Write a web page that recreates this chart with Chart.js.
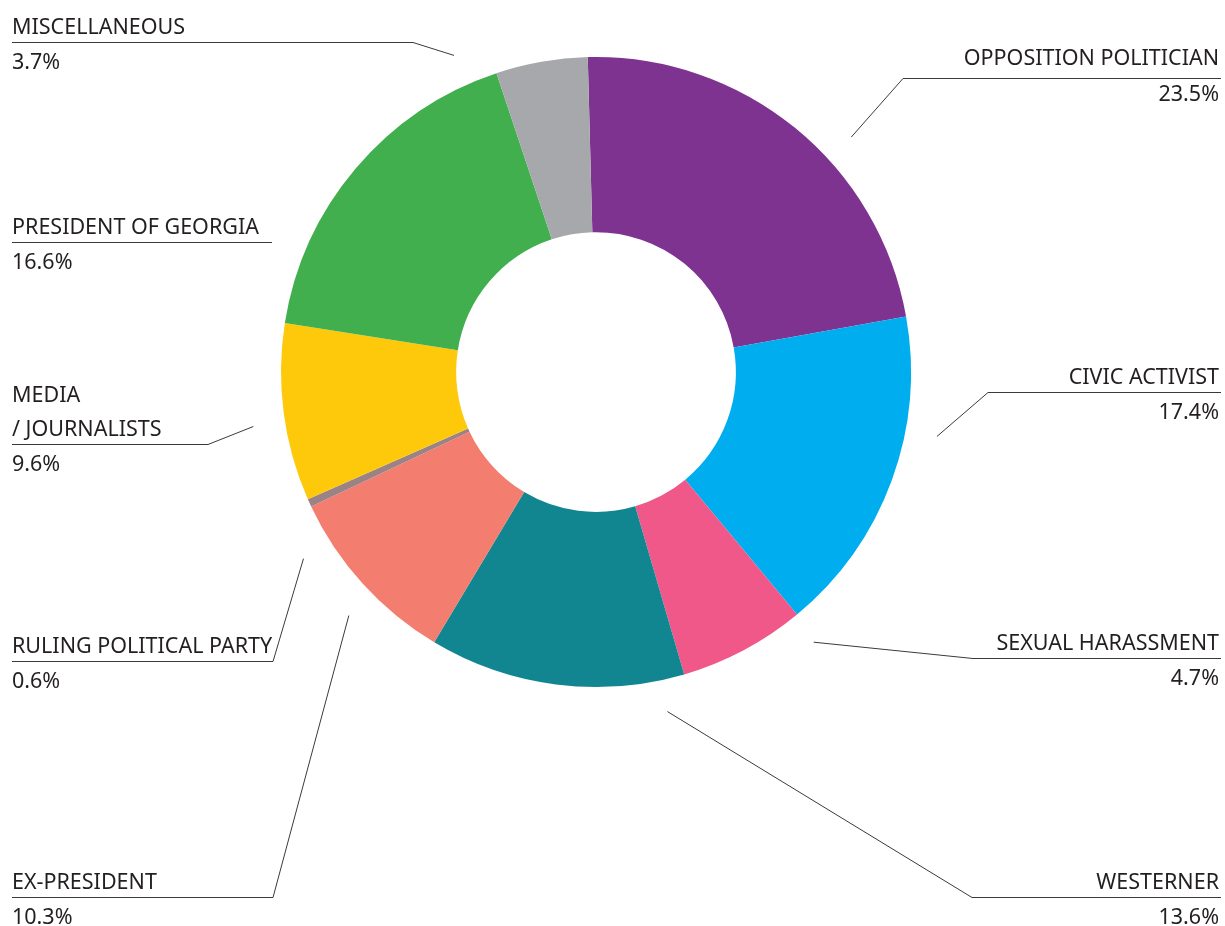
<!DOCTYPE html>
<html>
<head>
<meta charset="utf-8">
<script src="https://cdn.jsdelivr.net/npm/chart.js@4.4.1/dist/chart.umd.min.js"></script>
<style>
  html, body { margin: 0; padding: 0; background: #fff; }
  canvas { display: block; }
</style>
</head>
<body>
<canvas id="topicsChart" width="1225" height="926"></canvas>
<script>
// categories, in drawing order (clockwise from 12 o'clock)
const categories = [
  "OPPOSITION POLITICIAN",
  "CIVIC ACTIVIST",
  "SEXUAL HARASSMENT",
  "WESTERNER",
  "EX-PRESIDENT",
  "RULING POLITICAL PARTY",
  ["MEDIA", "/ JOURNALISTS"],
  "PRESIDENT OF GEORGIA",
  "MISCELLANEOUS"
];
// percentages as printed next to each label
const printedShares = [23.5, 17.4, 4.7, 13.6, 10.3, 0.6, 9.6, 16.6, 3.7];
// slice sizes as drawn in the picture (measured angles, in %)
const sliceShares = [22.6, 16.8, 6.5, 13.1, 9.4, 0.4, 9.1, 17.4, 4.7];
const sliceColors = ["#7f3391", "#00adee", "#ef5889", "#118690", "#f37d6e",
                     "#9b8385", "#ffc90b", "#41af4e", "#a7a8ab"];

// label placement: side, underline y, inner end of underline,
// anchor angle shift (deg) from the slice middle, null = no leader
const labelLayout = [
  { side: "right", y: 78,  elbow: 903, shift: 8.2, nameDy: -13, valDy: 23 },
  { side: "right", y: 392, elbow: 988, shift: -9.4 },
  { side: "right", y: 658, elbow: 973, shift: -10.9 },
  { side: "right", y: 897, elbow: 972, shift: -19.2 },
  { side: "left",  y: 897, elbow: 273, shift: -2.4 },
  { side: "left",  y: 661, elbow: 273, shift: -8 },
  { side: "left",  y: 444, elbow: 208, shift: -1.6 },
  { side: "left",  y: 242, elbow: 272, shift: null },
  { side: "left",  y: 42,  elbow: 413, shift: -14.2 }
];

const outsideLabels = {
  id: "outsideLabels",
  afterDraw(chart) {
    const ctx = chart.ctx;
    const arcs = chart.getDatasetMeta(0).data;
    ctx.save();
    ctx.font = "21.5px 'Noto Sans'";
    ctx.fillStyle = "#231f20";
    ctx.strokeStyle = "#3a3a3a";
    ctx.lineWidth = 1;
    arcs.forEach((arc, i) => {
      const lay = labelLayout[i];
      const right = lay.side === "right";
      const edge = right ? 1221 : 12;
      // underline + leader
      ctx.beginPath();
      ctx.moveTo(edge, lay.y + 0.5);
      ctx.lineTo(lay.elbow, lay.y + 0.5);
      if (lay.shift !== null) {
        const p = arc.getProps(["x", "y", "startAngle", "endAngle", "outerRadius"], true);
        const a = (p.startAngle + p.endAngle) / 2 + lay.shift * Math.PI / 180;
        const r = p.outerRadius + 32;
        ctx.lineTo(p.x + r * Math.cos(a), p.y + r * Math.sin(a));
      }
      ctx.stroke();
      // texts
      ctx.textAlign = right ? "right" : "left";
      ctx.textBaseline = "alphabetic";
      const tx = right ? 1219 : 12;
      const lines = [].concat(categories[i]);
      const nameY = lay.y + (lay.nameDy !== undefined ? lay.nameDy : -8);
      lines.forEach((t, k) => {
        ctx.fillText(t, tx, nameY - (lines.length - 1 - k) * 34);
      });
      ctx.fillText(printedShares[i].toFixed(1) + "%", tx,
                   lay.y + (lay.valDy !== undefined ? lay.valDy : 27));
    });
    ctx.restore();
  }
};

new Chart(document.getElementById("topicsChart"), {
  type: "doughnut",
  data: {
    labels: categories.map(c => [].concat(c).join(" ")),
    datasets: [{
      data: sliceShares,
      backgroundColor: sliceColors,
      borderWidth: 0,
      hoverOffset: 0
    }]
  },
  options: {
    responsive: false,
    animation: false,
    rotation: -1.5,
    cutout: "44.4%",
    layout: { padding: { left: 281, right: 314, top: 57, bottom: 239 } },
    plugins: {
      legend: { display: false },
      tooltip: { enabled: false }
    }
  },
  plugins: [outsideLabels]
});
</script>
</body>
</html>
